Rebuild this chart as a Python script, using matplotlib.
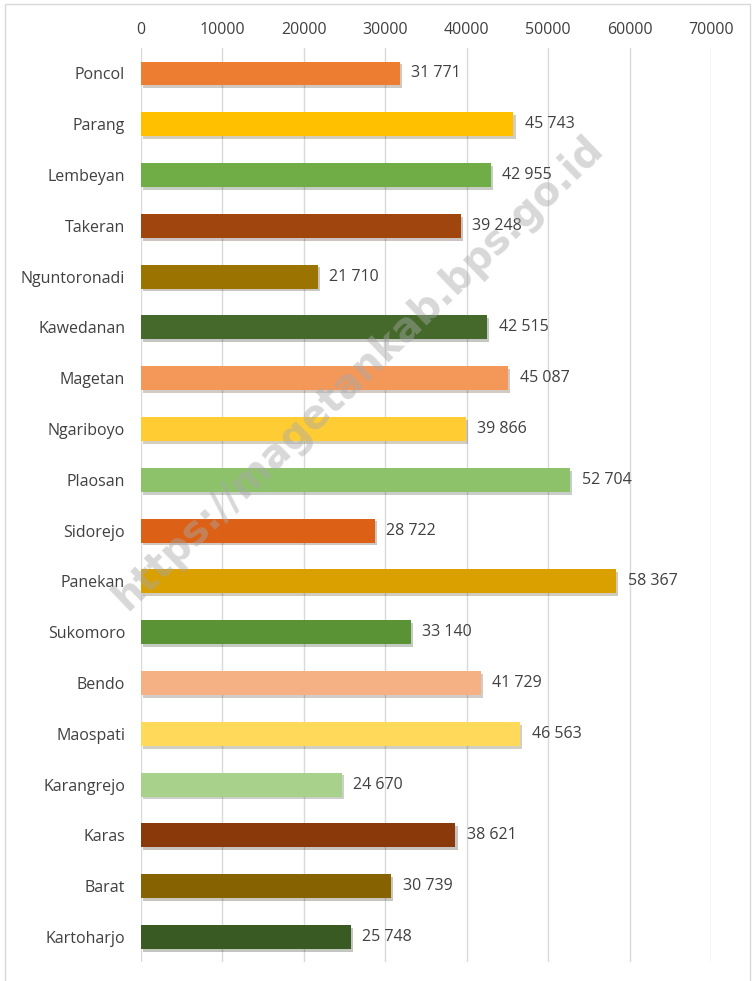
import matplotlib.pyplot as plt
import matplotlib.patheffects as pe
from matplotlib.patches import Rectangle

kecamatan = ['Poncol', 'Parang', 'Lembeyan', 'Takeran', 'Nguntoronadi',
             'Kawedanan', 'Magetan', 'Ngariboyo', 'Plaosan', 'Sidorejo',
             'Panekan', 'Sukomoro', 'Bendo', 'Maospati', 'Karangrejo',
             'Karas', 'Barat', 'Kartoharjo']
nilai = [31771, 45743, 42955, 39248, 21710, 42515, 45087, 39866, 52704,
         28722, 58367, 33140, 41729, 46563, 24670, 38621, 30739, 25748]
warna = ['#ED7D31', '#FFC000', '#70AD47', '#A0450E', '#9A7300', '#44692A',
         '#F4985A', '#FFCD33', '#8DC26A', '#DC6016', '#D9A000', '#5A9236',
         '#F5B084', '#FFD95A', '#A8D18C', '#8A3A0A', '#876200', '#3A5A24']
xticks = [0, 10000, 20000, 30000, 40000, 50000, 60000, 70000]

plt.rcParams['font.family'] = ['Open Sans', 'DejaVu Sans']
teks = '#404040'

fig = plt.figure(figsize=(7.54, 9.81), dpi=100)
ax = fig.add_axes([0.187, 0.019, 0.756, 0.932])

ypos = list(range(len(kecamatan)))
bars = ax.barh(ypos, nilai, height=0.47, color=warna, zorder=3)
for b in bars:
    b.set_path_effects([pe.SimplePatchShadow(offset=(1.5, -2), alpha=0.25),
                        pe.Normal()])

for y, v in zip(ypos, nilai):
    ax.text(v + 1400, y, '{:,}'.format(v).replace(',', ' '),
            va='center', ha='left', fontsize=11.5, color=teks, zorder=4)

ax.set_xlim(0, 70000)
ax.set_ylim(len(kecamatan) - 0.5, -0.5)
ax.set_yticks(ypos)
ax.set_yticklabels(kecamatan, fontsize=11.5, color=teks)
ax.set_xticks(xticks)
ax.set_xticklabels([str(t) for t in xticks], fontsize=11.5, color=teks)
ax.xaxis.tick_top()
ax.tick_params(axis='both', length=0)
ax.tick_params(axis='x', pad=7)
ax.tick_params(axis='y', pad=11.5)
ax.grid(axis='x', color='#d9d9d9', linewidth=1, zorder=0)
for s in ax.spines.values():
    s.set_visible(False)

# watermark
fig.text(0.475, 0.62, 'https://magetankab.bps.go.id', rotation=44,
         fontsize=28.5, fontweight='bold', color='#a8a8a8', alpha=0.45,
         ha='center', va='center', family=['DejaVu Sans'], zorder=10)

# frame
fig.patches.append(Rectangle((5 / 754, -0.01), 745 / 754, 1 - 4 / 981 + 0.01,
                             transform=fig.transFigure, fill=False,
                             edgecolor='#d9d9d9', linewidth=1))

fig.savefig('out.png', dpi=100)
